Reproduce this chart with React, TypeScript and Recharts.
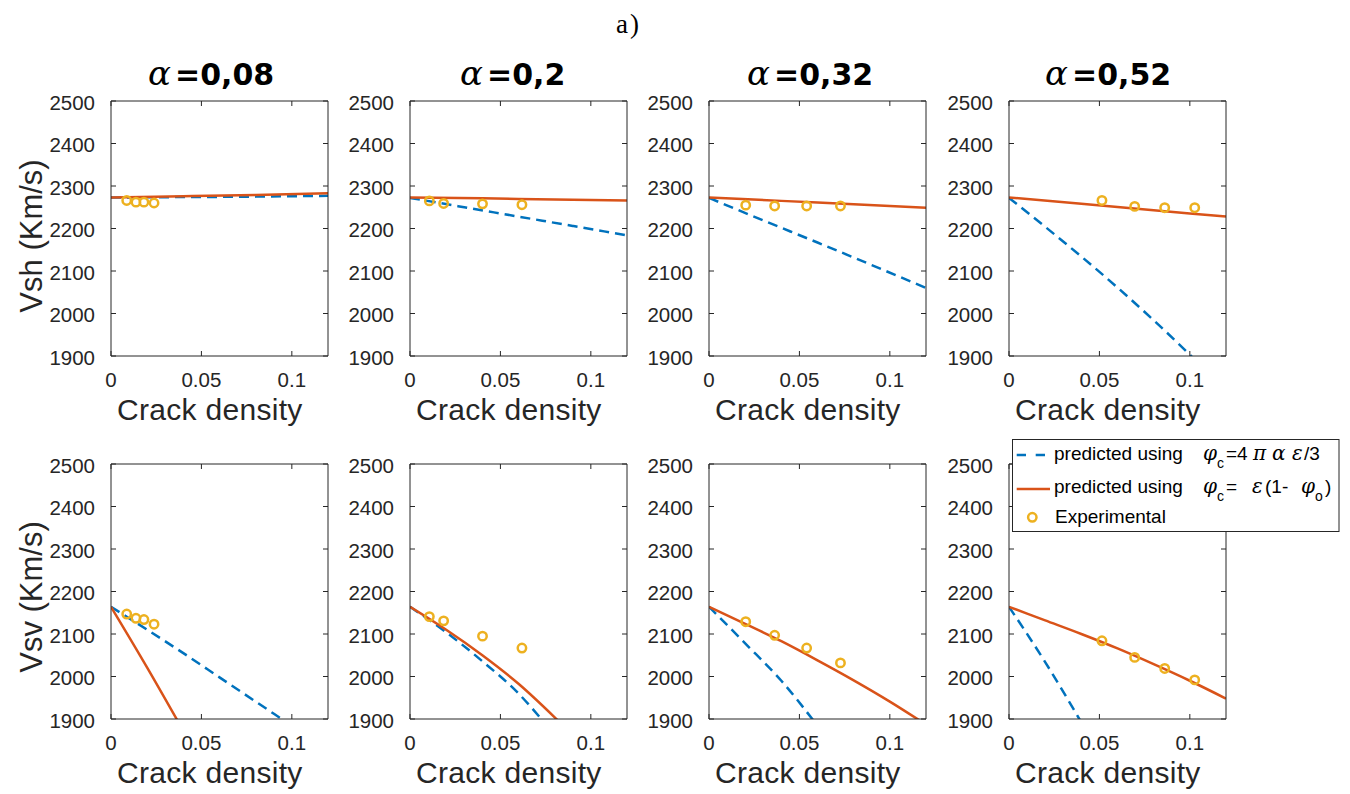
import React from 'react';
import { ComposedChart, Line, Scatter, XAxis, YAxis } from 'recharts';

// alpha of each column
const alphas = ['0,08', '0,2', '0,32', '0,52'];
const xTicks = [0, 0.05, 0.1];
const yTicks = [1900, 2000, 2100, 2200, 2300, 2400, 2500];

// crack density of the measured samples (same samples for Vsh and Vsv)
const expCrack = [
  [0.0087, 0.0138, 0.0182, 0.0238],
  [0.0107, 0.0186, 0.0401, 0.0619],
  [0.0203, 0.0363, 0.054, 0.0727],
  [0.0514, 0.0695, 0.0861, 0.1027],
];
const vshExp = [
  [2266, 2262, 2262, 2260],
  [2265, 2259, 2258, 2256],
  [2255, 2253, 2253, 2253],
  [2266, 2252, 2249, 2249],
];
const vsvExp = [
  [2147, 2137, 2134, 2123],
  [2141, 2131, 2095, 2067],
  [2129, 2097, 2067, 2032],
  [2084, 2045, 2019, 1992],
];

// model curves as [crack density, velocity]
// dashed: phi_c = 4 pi alpha eps / 3
const vshDashed: [number, number][][] = [
  [[0, 2273], [0.04, 2274], [0.08, 2275], [0.12, 2277]],
  [[0, 2272], [0.03, 2250], [0.06, 2228], [0.09, 2206], [0.12, 2184]],
  [[0, 2272], [0.03, 2219], [0.06, 2167], [0.09, 2114], [0.12, 2060]],
  [[0, 2272], [0.02, 2204], [0.04, 2134], [0.06, 2061], [0.08, 1984], [0.1, 1903], [0.11, 1860]],
];
// solid: phi_c = eps (1 - phi_o)
const vshSolid: [number, number][][] = [
  [[0, 2273], [0.04, 2276], [0.08, 2279], [0.12, 2283]],
  [[0, 2273], [0.04, 2271], [0.08, 2268], [0.12, 2266]],
  [[0, 2273], [0.04, 2265], [0.08, 2257], [0.12, 2249]],
  [[0, 2273], [0.04, 2258], [0.08, 2243], [0.12, 2228]],
];
const vsvDashed: [number, number][][] = [
  [[0, 2164], [0.02, 2110], [0.04, 2055], [0.06, 1998], [0.08, 1941], [0.1, 1884]],
  [[0, 2164], [0.02, 2104], [0.04, 2036], [0.06, 1960], [0.072, 1903], [0.08, 1862]],
  [[0, 2164], [0.02, 2078], [0.04, 1990], [0.06, 1884]],
  [[0, 2164], [0.02, 2034], [0.04, 1892]],
];
const vsvSolid: [number, number][][] = [
  [[0, 2164], [0.02, 2021], [0.04, 1872]],
  [[0, 2164], [0.02, 2110], [0.04, 2050], [0.06, 1983], [0.08, 1904], [0.09, 1862]],
  [[0, 2164], [0.02, 2124], [0.04, 2083], [0.06, 2038], [0.08, 1991], [0.1, 1941], [0.12, 1887]],
  [[0, 2164], [0.02, 2132], [0.04, 2100], [0.06, 2066], [0.08, 2029], [0.1, 1990], [0.12, 1948]],
];

const BLUE = '#0072BD';
const RED = '#D95319';
const YELLOW = '#EDB120';
const INK = '#262626';
const SANS = '"Liberation Sans", Arial, Helvetica, sans-serif';
const SERIF = '"DejaVu Serif", "Liberation Serif", serif';

// layout (pixels)
const PLOT_LEFT = [111, 410, 709, 1009];
const ROW_TOP = [101, 464];
const PLOT_W = 217;
const PLOT_H = 255;
const AXIS_W = 80;
const TITLE_X = [148, 460, 747, 1045];

const toXY = (pts: [number, number][]) => pts.map(([x, y]) => ({ x, y }));

const YTick = (p: any) => (
  <text x={p.x} y={p.y + 8.5} textAnchor="end" fontSize={20.5} fontFamily={SANS} fill={INK}>
    {p.payload.value}
  </text>
);
const XTick = (p: any) => (
  <text x={p.x} y={p.y + 25.5} textAnchor="middle" fontSize={20.5} fontFamily={SANS} fill={INK}>
    {p.payload.value}
  </text>
);
const Blank = () => <g />;
const Ring = (p: any) => <circle cx={p.cx} cy={p.cy} r={4.2} fill="none" stroke={YELLOW} strokeWidth={2.5} />;

function Panel({ col, row }: { col: number; row: number }) {
  const dashed = toXY((row === 0 ? vshDashed : vsvDashed)[col]);
  const solid = toXY((row === 0 ? vshSolid : vsvSolid)[col]);
  const vel = (row === 0 ? vshExp : vsvExp)[col];
  const exp = expCrack[col].map((x, i) => ({ x, y: vel[i] }));

  return (
    <div style={{ position: 'absolute', left: PLOT_LEFT[col] - AXIS_W, top: ROW_TOP[row] - 10 }}>
      <ComposedChart width={AXIS_W + PLOT_W + 10} height={10 + PLOT_H + 50} margin={{ top: 0, right: 0, bottom: 0, left: 0 }}>
        <XAxis xAxisId="b" type="number" dataKey="x" domain={[0, 0.12]} ticks={xTicks} interval={0}
          allowDataOverflow height={50} tickSize={-5} tickMargin={10} tick={XTick} stroke={INK} />
        <XAxis xAxisId="t" orientation="top" type="number" dataKey="x" domain={[0, 0.12]} ticks={xTicks} interval={0}
          allowDataOverflow height={10} tickSize={-5} tick={Blank} stroke={INK} />
        <YAxis yAxisId="l" type="number" dataKey="y" domain={[1900, 2500]} ticks={yTicks} interval={0}
          allowDataOverflow width={AXIS_W} tickSize={-5} tickMargin={21} tick={YTick} stroke={INK} />
        <YAxis yAxisId="r" orientation="right" type="number" dataKey="y" domain={[1900, 2500]} ticks={yTicks} interval={0}
          allowDataOverflow width={10} tickSize={-5} tick={Blank} stroke={INK} />
        <Line xAxisId="b" yAxisId="l" data={dashed} dataKey="y" type="monotone" stroke={BLUE} strokeWidth={2.5}
          strokeDasharray="10 6" dot={false} isAnimationActive={false} />
        <Line xAxisId="b" yAxisId="l" data={solid} dataKey="y" type="monotone" stroke={RED} strokeWidth={2.5}
          dot={false} isAnimationActive={false} />
        <Scatter xAxisId="b" yAxisId="l" data={exp} dataKey="y" shape={Ring} isAnimationActive={false} />
      </ComposedChart>
    </div>
  );
}

const greek = { fontFamily: SERIF, fontStyle: 'italic', fontSize: 20, fill: '#000' } as const;
const plain = { fontFamily: SANS, fontSize: 19, fill: '#000' } as const;
const sub = { fontFamily: SANS, fontSize: 14, fill: '#000' } as const;

export default function App() {
  return (
    <div style={{ position: 'absolute', left: 0, top: 0, width: 1350, height: 794, background: '#fff', overflow: 'hidden' }}>
      {[0, 1].map((row) => [0, 1, 2, 3].map((col) => <Panel key={`${row}-${col}`} row={row} col={col} />))}

      <svg width={1350} height={794} style={{ position: 'absolute', left: 0, top: 0, pointerEvents: 'none' }}>
        <text x={616} y={33} fontFamily='"Liberation Serif", serif' fontSize={27} letterSpacing={2}>a)</text>

        {alphas.map((a, i) => (
          <g key={a}>
            <text x={TITLE_X[i]} y={85} fontFamily={SERIF} fontStyle="italic" fontSize={34} fill="#000">α</text>
            <text x={TITLE_X[i] + 27} y={85} fontFamily='"DejaVu Sans", sans-serif' fontWeight="bold" fontSize={30} fill="#000">
              ={a}
            </text>
          </g>
        ))}

        <text transform="translate(42,236) rotate(-90)" textAnchor="middle" fontFamily={SANS} fontSize={31} fill={INK}>Vsh (Km/s)</text>
        <text transform="translate(42,597) rotate(-90)" textAnchor="middle" fontFamily={SANS} fontSize={31} fill={INK}>Vsv (Km/s)</text>

        {[0, 1].map((row) =>
          PLOT_LEFT.map((l) => (
            <text key={`${row}-${l}`} x={l + 6} y={row === 0 ? 420 : 783} fontFamily={SANS} fontSize={30} letterSpacing={0.3} fill={INK}>
              Crack density
            </text>
          ))
        )}

        {/* legend */}
        <rect x={1012.5} y={439.5} width={326.5} height={92} fill="#fff" stroke={INK} strokeWidth={1} />
        <line x1={1016.7} x2={1045} y1={455} y2={455} stroke={BLUE} strokeWidth={2.5} strokeDasharray="9.3 9.7" />
        <text x={1054} y={460} {...plain}>predicted using</text>
        <text x={1203} y={460} {...greek}>φ</text>
        <text x={1217} y={468} {...sub}>c</text>
        <text x={1226} y={460} {...plain}>=4</text>
        <text x={1253} y={460} {...greek}>π</text>
        <text x={1272} y={460} {...greek}>α</text>
        <text x={1292} y={460} {...greek}>ε</text>
        <text x={1304} y={460} {...plain}>/3</text>

        <line x1={1016.7} x2={1050} y1={489} y2={489} stroke={RED} strokeWidth={2.5} />
        <text x={1054} y={493} {...plain}>predicted using</text>
        <text x={1203} y={493} {...greek}>φ</text>
        <text x={1217} y={501} {...sub}>c</text>
        <text x={1226} y={493} {...plain}>=</text>
        <text x={1252} y={493} {...greek}>ε</text>
        <text x={1265} y={493} {...plain}>(1-</text>
        <text x={1301} y={493} {...greek}>φ</text>
        <text x={1315} y={501} {...sub}>o</text>
        <text x={1325} y={493} {...plain}>)</text>

        <circle cx={1032.3} cy={517.3} r={4.2} fill="none" stroke={YELLOW} strokeWidth={2.5} />
        <text x={1055} y={523} {...plain}>Experimental</text>
      </svg>
    </div>
  );
}
